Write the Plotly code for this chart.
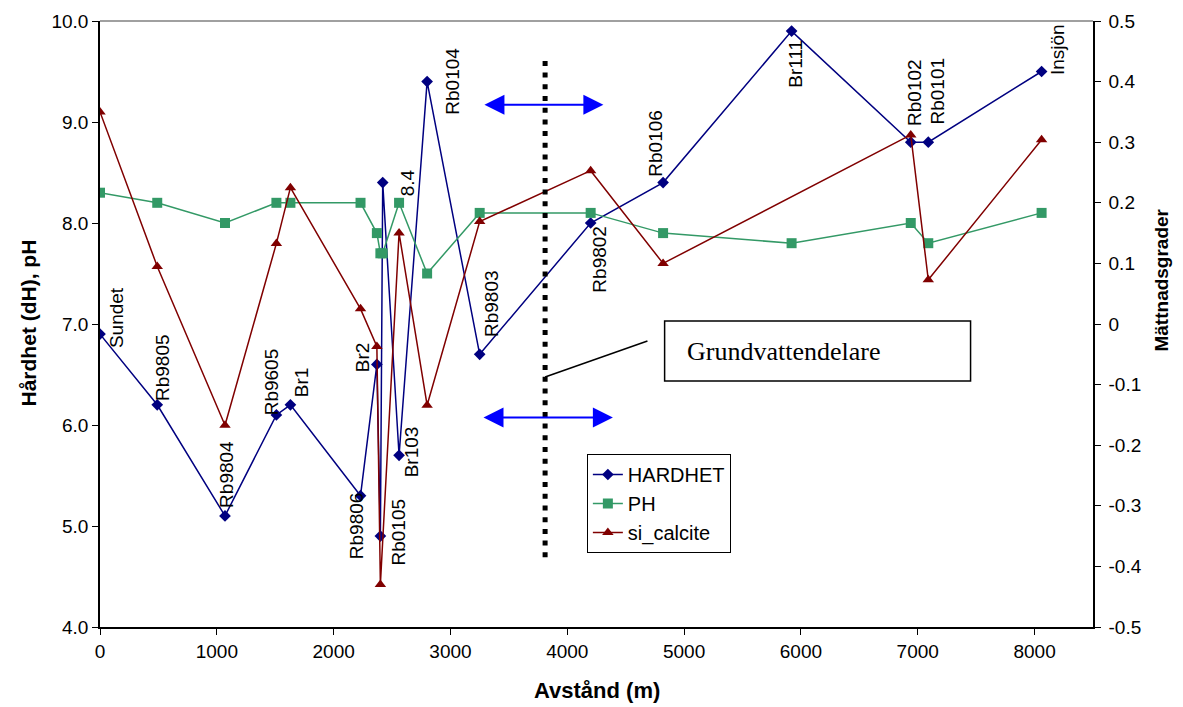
import plotly.graph_objects as go

# ---------------- data ----------------
distance_m = [0, 490, 1070, 1510, 1630, 2230, 2370, 2400, 2420, 2560, 2800, 3250,
              4200, 4820, 5920, 6940, 7090, 8060]
hardhet = [6.9, 6.2, 5.1, 6.1, 6.2, 5.3, 6.6, 4.9, 8.4, 5.7, 9.4, 6.7,
           8.0, 8.4, 9.9, 8.8, 8.8, 9.5]
ph = [8.3, 8.2, 8.0, 8.2, 8.2, 8.2, 7.9, 7.7, 7.7, 8.2, 7.5, 8.1,
      8.1, 7.9, 7.8, 8.0, 7.8, 8.1]
si_calcite = [0.35, 0.095, -0.167, 0.133, 0.225, 0.025, -0.037, -0.43, None, 0.15, -0.134, 0.169,
              0.253, 0.10, None, 0.312, 0.073, 0.304]
point_labels = ["Sundet", "Rb9805", "Rb9804", "Rb9605", "Br1", "Rb9806", "Br2", "Rb0105", "8.4",
                "Br103", "Rb0104", "Rb9803", "Rb9802", "Rb0106", "Br111", "Rb0102", "Rb0101", "Insjön"]

x_tick_vals = [0, 1000, 2000, 3000, 4000, 5000, 6000, 7000, 8000]
left_tick_vals = [4, 5, 6, 7, 8, 9, 10]
right_tick_vals = [-0.5, -0.4, -0.3, -0.2, -0.1, 0, 0.1, 0.2, 0.3, 0.4, 0.5]
right_tick_text = ["-0.5", "-0.4", "-0.3", "-0.2", "-0.1", "0", "0.1", "0.2", "0.3", "0.4", "0.5"]

divide_x = 3810  # grundvattendelare position (m)

# ---------------- styles ----------------
# pixel offsets of each rotated label relative to its HARDHET point (dx right, dy up)
label_offsets = [(16, 16), (6, 37), (2, 41), (-5, 33), (11, 23), (-4, -30), (-14, 7), (18, 4),
                 (25, 0), (12, 3), (25, 0), (12, 51), (8, -36), (-7, 39), (3, -33), (3, 50),
                 (9, 51), (16, 22)]

FONT = "Liberation Sans, Arial, sans-serif"
NAVY = "#000080"
GREEN = "#339966"
RED = "#800000"

fig = go.Figure()
fig.add_trace(go.Scatter(
    x=distance_m, y=hardhet, name="HARDHET", mode="lines+markers",
    line=dict(color=NAVY, width=1.5),
    marker=dict(symbol="diamond", size=9, color=NAVY),
))
fig.add_trace(go.Scatter(
    x=distance_m, y=ph, name="PH", mode="lines+markers",
    line=dict(color=GREEN, width=1.5),
    marker=dict(symbol="square", size=10, color=GREEN),
))
fig.add_trace(go.Scatter(
    x=distance_m, y=si_calcite, name="si_calcite", mode="lines+markers", yaxis="y2",
    connectgaps=True,
    line=dict(color=RED, width=1.5),
    marker=dict(symbol="triangle-up", size=10, color=RED),
))

annotations = []
for xv, yv, txt, (dx, dy) in zip(distance_m, hardhet, point_labels, label_offsets):
    annotations.append(dict(
        x=xv, y=yv, xref="x", yref="y", text=txt, showarrow=False, textangle=-90,
        xanchor="center", yanchor="middle", xshift=dx, yshift=dy,
        font=dict(family=FONT, size=19, color="black"),
    ))

# double-headed blue arrows
for (x_start, x_end, yv) in [(3278, 4309, 9.171), (3270, 4390, 6.074)]:
    annotations.append(dict(
        x=x_end, y=yv, ax=x_start, ay=yv, xref="x", yref="y", axref="x", ayref="y",
        text="", showarrow=True, arrowside="end+start", arrowhead=2, startarrowhead=2,
        arrowsize=2, startarrowsize=2, arrowwidth=2, arrowcolor="#0000FF",
        standoff=0, startstandoff=0,
    ))

# axis titles
annotations.append(dict(x=0.5, y=-0.104, xref="paper", yref="paper", text="<b>Avstånd (m)</b>",
                        showarrow=False, font=dict(family=FONT, size=22, color="black"),
                        xanchor="center", yanchor="middle"))
annotations.append(dict(x=-0.072, y=0.5017, xref="paper", yref="paper",
                        text="<b>Hårdhet (dH), pH</b>", textangle=-90,
                        showarrow=False, font=dict(family=FONT, size=21, color="black"),
                        xanchor="center", yanchor="middle"))
annotations.append(dict(x=1.068, y=0.5726, xref="paper", yref="paper",
                        text="<b>Mättnadsgrader</b>", textangle=-90,
                        showarrow=False, font=dict(family=FONT, size=19, color="black"),
                        xanchor="center", yanchor="middle"))
# text box label
annotations.append(dict(x=0.5887, y=0.4554, xref="paper", yref="paper",
                        text="Grundvattendelare", showarrow=False,
                        font=dict(family="Liberation Serif, Times New Roman, serif", size=26, color="black"),
                        xanchor="left", yanchor="middle"))

shapes = [
    # top frame border
    dict(type="line", xref="paper", yref="paper", x0=0, x1=1, y0=1, y1=1,
         line=dict(color="#808080", width=1.5)),
    # dotted divide line
    dict(type="line", xref="x", yref="y", x0=divide_x, x1=divide_x, y0=4.69, y1=9.65,
         line=dict(color="black", width=5, dash="5px,6.7px")),
    # connector line to text box
    dict(type="line", xref="x", yref="y", x0=divide_x, x1=4686, y0=6.475, y1=6.832,
         line=dict(color="black", width=1.5)),
    # text box
    dict(type="rect", xref="paper", yref="paper", x0=0.5686, x1=0.8767, y0=0.4059, y1=0.5050,
         line=dict(color="black", width=1.5), fillcolor="white", layer="above"),
]

fig.update_layout(
    width=1183, height=707,
    margin=dict(l=100, r=90, t=21, b=80),
    paper_bgcolor="white", plot_bgcolor="white",
    font=dict(family=FONT, size=19, color="black"),
    showlegend=True,
    legend=dict(x=0.4903, y=0.2855, xanchor="left", yanchor="top",
                bgcolor="white", bordercolor="black", borderwidth=1,
                font=dict(family=FONT, size=20, color="black"),
                tracegroupgap=0, itemwidth=30),
    xaxis=dict(range=[0, 8500], tickvals=x_tick_vals, showgrid=False, zeroline=False,
               showline=True, linecolor="black", linewidth=1.5, ticks="outside",
               ticklen=6, tickcolor="black", tickfont=dict(family=FONT, size=19)),
    yaxis=dict(range=[4, 10], tickvals=left_tick_vals, tickformat=".1f", showgrid=False,
               zeroline=False, showline=True, linecolor="black", linewidth=1.5,
               ticks="outside", ticklen=6, tickcolor="black", tickfont=dict(family=FONT, size=19)),
    yaxis2=dict(range=[-0.5, 0.5], tickvals=right_tick_vals, ticktext=right_tick_text,
                overlaying="y", side="right", showgrid=False, zeroline=False, showline=True,
                linecolor="black", linewidth=1.5, ticks="outside", ticklen=6, tickcolor="black",
                ticklabelstandoff=4, tickfont=dict(family=FONT, size=19)),
    annotations=annotations,
    shapes=shapes,
)

fig.write_html("out.html")
